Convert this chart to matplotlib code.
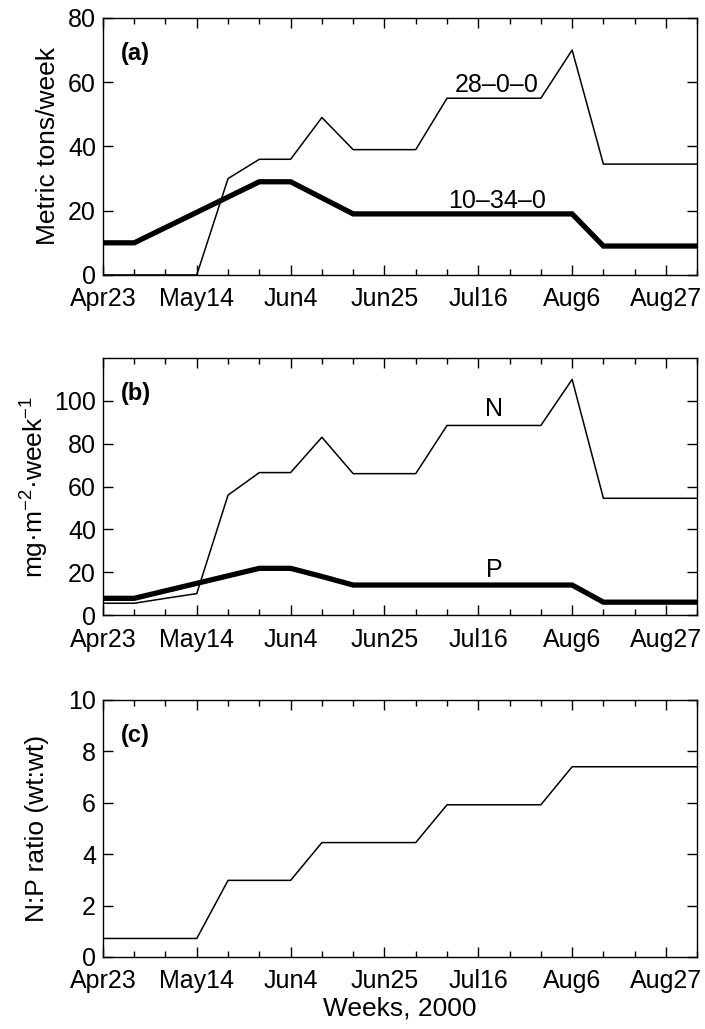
import matplotlib; matplotlib.use('Agg')
import matplotlib.pyplot as plt
import numpy as np
from matplotlib.ticker import MultipleLocator

plt.rcParams.update({
    'font.family': ['Liberation Sans', 'DejaVu Sans'],
    'font.size': 18,
    'xtick.direction': 'in', 'ytick.direction': 'in',
    'xtick.top': True, 'ytick.right': True,
    'axes.linewidth': 1.0,
    'mathtext.fontset': 'custom',
    'mathtext.rm': 'Liberation Sans',
    'mathtext.it': 'Liberation Sans',
})

# weeks since Apr23, 2000
weeks = np.arange(0, 20)
tick_weeks = [0, 3, 6, 9, 12, 15, 18]
tick_labels = ['Apr23', 'May14', 'Jun4', 'Jun25', 'Jul16', 'Aug6', 'Aug27']

# (a) fertilizer applied, metric tons/week
urea_28_0_0 = [0, 0, 0, 0, 30, 36, 36, 49, 39, 39, 39, 55, 55, 55, 55, 70, 34.5, 34.5, 34.5, 34.5]
map_10_34_0 = [10, 10, 14.75, 19.5, 24.25, 29, 29, 24, 19, 19, 19, 19, 19, 19, 19, 19, 9, 9, 9, 9]

# (b) areal loading, mg m-2 week-1
n_load = [5.5, 5.5, 7.8, 10, 56, 66.5, 66.5, 83, 66, 66, 66, 88.5, 88.5, 88.5, 88.5, 110, 54.5, 54.5, 54.5, 54.5]
p_load = [7.8, 7.8, 11.3, 14.8, 18.3, 21.8, 21.8, 18, 14, 14, 14, 14, 14, 14, 14, 14, 6, 6, 6, 6]

# (c) N:P ratio
np_ratio = [0.72, 0.72, 0.72, 0.72, 2.98, 2.98, 2.98, 4.45, 4.45, 4.45, 4.45, 5.92, 5.92, 5.92, 5.92, 7.4, 7.4, 7.4, 7.4, 7.4]

fig = plt.figure(figsize=(7.05, 10.29), dpi=100)
left, width, height = 0.146, 0.843, 0.2498
ax_a = fig.add_axes([left, 0.7328, width, height])
ax_b = fig.add_axes([left, 0.4023, width, height])
ax_c = fig.add_axes([left, 0.0700, width, height])

for ax in (ax_a, ax_b, ax_c):
    ax.set_xlim(0, 19)
    ax.set_xticks(tick_weeks)
    ax.set_xticklabels(tick_labels)
    ax.xaxis.set_minor_locator(MultipleLocator(1))
    ax.tick_params(which='major', length=7, width=1.0, labelsize=18)
    ax.tick_params(axis='x', which='major', pad=9)
    ax.tick_params(axis='y', which='major', pad=5)
    ax.tick_params(which='minor', length=4, width=1.0)
    ax.tick_params(axis='y', which='minor', length=0)

# panel a
ax_a.plot(weeks, urea_28_0_0, color='black', lw=1.1)
ax_a.plot(weeks, map_10_34_0, color='black', lw=3.8, solid_joinstyle='miter')
ax_a.set_ylim(0, 80)
ax_a.set_yticks([0, 20, 40, 60, 80])
ax_a.set_ylabel('Metric tons/week', fontsize=19, labelpad=6)
ax_a.text(12.6, 59, '28\u20130\u20130', ha='center', va='center', fontsize=18)
ax_a.text(12.6, 23, '10\u201334\u20130', ha='center', va='center', fontsize=18)
ax_a.text(0.03, 0.86, '(a)', transform=ax_a.transAxes, fontweight='bold', fontsize=17, va='center')

# panel b
ax_b.plot(weeks, n_load, color='black', lw=1.1)
ax_b.plot(weeks, p_load, color='black', lw=3.8, solid_joinstyle='miter')
ax_b.set_ylim(0, 120)
ax_b.set_yticks([0, 20, 40, 60, 80, 100])
ax_b.set_ylabel('mg\u00b7m$^{-2}$\u00b7week$^{-1}$', fontsize=19, labelpad=2)
ax_b.text(12.5, 96, 'N', ha='center', va='center', fontsize=18)
ax_b.text(12.5, 21, 'P', ha='center', va='center', fontsize=18)
ax_b.text(0.03, 0.86, '(b)', transform=ax_b.transAxes, fontweight='bold', fontsize=17, va='center')

# panel c
ax_c.plot(weeks, np_ratio, color='black', lw=1.1)
ax_c.set_ylim(0, 10)
ax_c.set_yticks([0, 2, 4, 6, 8, 10])
ax_c.set_ylabel('N:P ratio (wt:wt)', fontsize=19, labelpad=14)
ax_c.set_xlabel('Weeks, 2000', fontsize=19, labelpad=2)
ax_c.text(0.03, 0.86, '(c)', transform=ax_c.transAxes, fontweight='bold', fontsize=17, va='center')

fig.savefig('out.png', dpi=100)
plt.close(fig)
